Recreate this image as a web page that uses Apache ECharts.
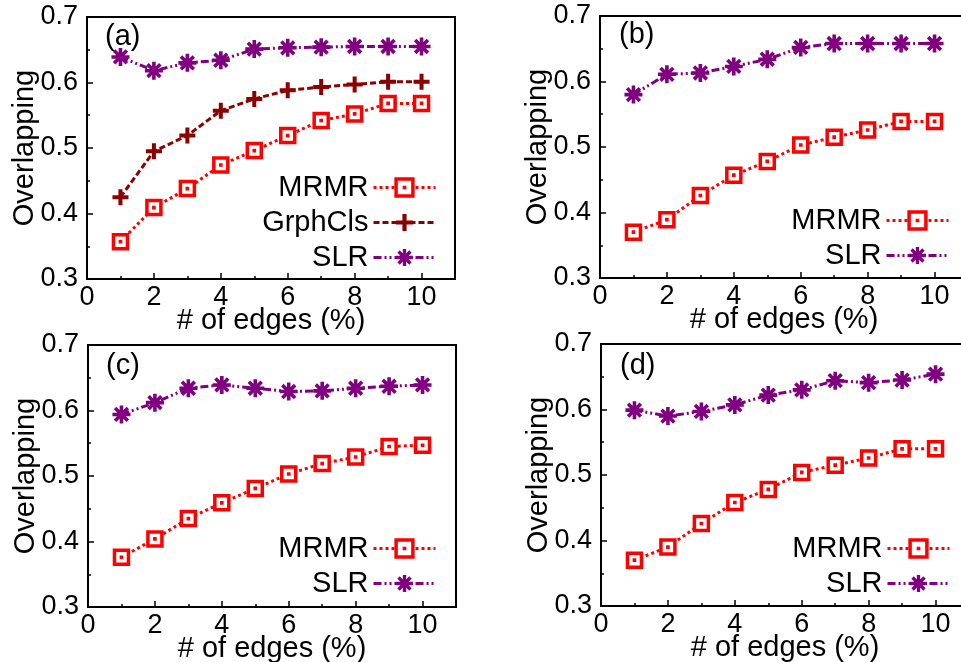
<!DOCTYPE html>
<html>
<head>
<meta charset="utf-8">
<script src="https://cdn.jsdelivr.net/npm/echarts@6/dist/echarts.min.js"></script>
<style>
  html, body { margin: 0; padding: 0; background: #fff; }
  #chart { width: 961px; height: 662px; }
</style>
</head>
<body>
<div id="chart"></div>
<script>
// x values (% of edges)
var edges = [1, 2, 3, 4, 5, 6, 7, 8, 9, 10];

// panel (a)
var mrmrA = [0.357, 0.409, 0.438, 0.474, 0.496, 0.519, 0.542, 0.552, 0.568, 0.568];
var grphClsA = [0.425, 0.495, 0.519, 0.557, 0.575, 0.588, 0.593, 0.597, 0.601, 0.601];
var slrA = [0.639, 0.618, 0.630, 0.634, 0.651, 0.653, 0.654, 0.655, 0.655, 0.655];
// panel (b)
var mrmrB = [0.370, 0.389, 0.426, 0.457, 0.478, 0.503, 0.515, 0.526, 0.539, 0.539];
var slrB = [0.580, 0.611, 0.613, 0.623, 0.634, 0.652, 0.658, 0.658, 0.658, 0.658];
// panel (c)
var mrmrC = [0.376, 0.404, 0.435, 0.459, 0.481, 0.503, 0.519, 0.529, 0.545, 0.547];
var slrC = [0.594, 0.612, 0.634, 0.639, 0.634, 0.629, 0.630, 0.634, 0.637, 0.639];
// panel (d)
var mrmrD = [0.370, 0.390, 0.426, 0.458, 0.478, 0.504, 0.515, 0.526, 0.540, 0.540];
var slrD = [0.599, 0.590, 0.597, 0.607, 0.622, 0.630, 0.644, 0.641, 0.645, 0.654];

var panelNames = ["(a)", "(b)", "(c)", "(d)"];

var FONT = "'Liberation Sans', Arial, Helvetica, sans-serif";

// marker shapes
var squareDot = "path://M0,0H16V16H0Z M7.9,7.9H8.1V8.1H7.9Z";
var plusPath = "path://M0,6H16V10H0Z M6,0H10V16H6Z";
var starPath = "path://M0,8H20V12H0Z M8,0H12V20H8Z M1.5,4.3L4.3,1.5L18.5,15.7L15.7,18.5Z M15.7,1.5L18.5,4.3L4.3,18.5L1.5,15.7Z";

function pairs(vals) {
  return edges.map(function (x, i) { return [x, vals[i]]; });
}

var grids = [
  { left: 87, top: 17, width: 368, height: 262 },
  { left: 600, top: 16, width: 368, height: 262 },
  { left: 88, top: 345, width: 368, height: 262 },
  { left: 601, top: 344, width: 368, height: 262 }
];

var labelPos = [
  { left: 105, top: 22 },
  { left: 619, top: 20 },
  { left: 106, top: 351 },
  { left: 620, top: 351 }
];

var legendPos = [
  { right: 524, top: 173 },
  { right: 11, top: 206 },
  { right: 524, top: 534 },
  { right: 10, top: 534 }
];

function xAxisFor(i) {
  return {
    type: "value", gridIndex: i, min: 0, max: 11, interval: 2,
    name: "# of edges (%)", nameLocation: "middle", nameGap: 27,
    nameMoveOverlap: false,
    nameTextStyle: { fontSize: 29, color: "#000", fontFamily: FONT },
    axisLine: { onZero: false, lineStyle: { color: "#000", width: 2 } },
    axisTick: { inside: true, length: 6, lineStyle: { color: "#000", width: 1.5 } },
    minorTick: { show: true, splitNumber: 2, length: 3, lineStyle: { color: "#000", width: 1.5 } },
    axisLabel: { fontSize: 27, color: "#000", fontFamily: FONT, margin: 5, showMaxLabel: false, showMinLabel: true },
    splitLine: { show: false }
  };
}

function yAxisFor(i) {
  return {
    type: "value", gridIndex: i, min: 0.3, max: 0.7, interval: 0.1,
    name: "Overlapping", nameLocation: "middle", nameGap: 48,
    nameMoveOverlap: false,
    nameTextStyle: { fontSize: 29, color: "#000", fontFamily: FONT },
    axisLine: { onZero: false, lineStyle: { color: "#000", width: 2 } },
    axisTick: { inside: true, length: 6, lineStyle: { color: "#000", width: 1.5 } },
    minorTick: { show: true, splitNumber: 2, length: 3, lineStyle: { color: "#000", width: 1.5 } },
    axisLabel: {
      fontSize: 27, color: "#000", fontFamily: FONT, margin: 9,
      formatter: function (v) { return v.toFixed(1); }
    },
    splitLine: { show: false }
  };
}

function mrmrSeries(i, vals) {
  return {
    name: "MRMR", type: "line", xAxisIndex: i, yAxisIndex: i,
    data: pairs(vals), symbol: squareDot, symbolSize: 14,
    itemStyle: { color: "#fff", borderColor: "#ff0000", borderWidth: 3.5 },
    lineStyle: { color: "#ff0000", width: 3, type: [3, 3] },
    z: 3
  };
}
function grphSeries(i, vals) {
  return {
    name: "GrphCls", type: "line", xAxisIndex: i, yAxisIndex: i,
    data: pairs(vals), symbol: plusPath, symbolSize: 16,
    itemStyle: { color: "#8b0000" },
    lineStyle: { color: "#8b0000", width: 3, type: [6, 3] },
    z: 2
  };
}
function slrSeries(i, vals) {
  return {
    name: "SLR", type: "line", xAxisIndex: i, yAxisIndex: i,
    data: pairs(vals), symbol: starPath, symbolSize: 18,
    itemStyle: { color: "#800080" },
    lineStyle: { color: "#800080", width: 3, type: [8, 3, 2, 3, 2, 3] },
    z: 2
  };
}

function legendFor(i, names) {
  return {
    orient: "vertical", align: "right", padding: 0,
    right: legendPos[i].right, top: legendPos[i].top,
    itemWidth: 62, itemHeight: 21, itemGap: 6,
    selectedMode: false,
    lineStyle: { width: 3 },
    textStyle: { fontSize: 29, lineHeight: 28, color: "#000", fontFamily: FONT },
    data: names.map(function (n) {
      return n === "MRMR" ? { name: n, itemStyle: { borderWidth: 3.5 } } : { name: n };
    })
  };
}

var series = [
  mrmrSeries(0, mrmrA), grphSeries(0, grphClsA), slrSeries(0, slrA),
  mrmrSeries(1, mrmrB), slrSeries(1, slrB),
  mrmrSeries(2, mrmrC), slrSeries(2, slrC),
  mrmrSeries(3, mrmrD), slrSeries(3, slrD)
];

var chart = echarts.init(document.getElementById("chart"));
chart.setOption({
  animation: false,
  backgroundColor: "#fff",
  textStyle: { fontFamily: FONT },
  title: panelNames.map(function (t, i) {
    return {
      text: t, left: labelPos[i].left, top: labelPos[i].top, padding: 0,
      textStyle: { fontSize: 29, fontWeight: "normal", color: "#000", fontFamily: FONT }
    };
  }),
  grid: grids.map(function (g) {
    return Object.assign({ show: true, borderColor: "#000", borderWidth: 2, containLabel: false, outerBoundsMode: "none" }, g);
  }),
  xAxis: [0, 1, 2, 3].map(xAxisFor),
  yAxis: [0, 1, 2, 3].map(yAxisFor),
  legend: [
    legendFor(0, ["MRMR", "GrphCls", "SLR"]),
    legendFor(1, ["MRMR", "SLR"]),
    legendFor(2, ["MRMR", "SLR"]),
    legendFor(3, ["MRMR", "SLR"])
  ],
  series: series
});
</script>
</body>
</html>
